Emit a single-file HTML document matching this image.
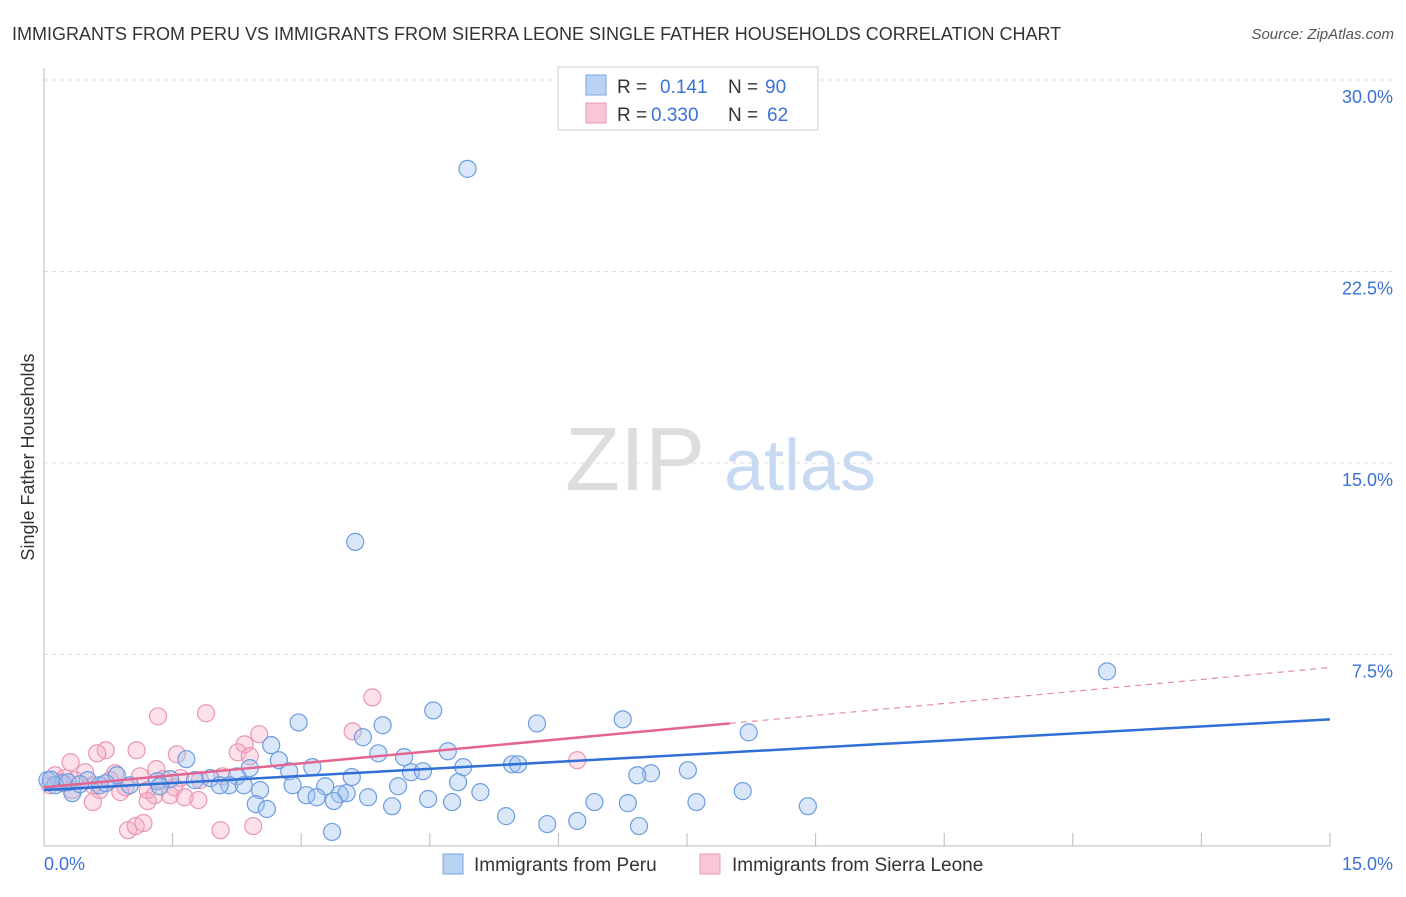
<!DOCTYPE html>
<html><head><meta charset="utf-8"><style>
body{margin:0;background:#fff;font-family:"Liberation Sans",sans-serif}
svg text{font-family:"Liberation Sans",sans-serif}
</style></head><body>
<svg id="chart" width="1406" height="892" xmlns="http://www.w3.org/2000/svg">
<text x="12" y="40" font-size="18" fill="#333">IMMIGRANTS FROM PERU VS IMMIGRANTS FROM SIERRA LEONE SINGLE FATHER HOUSEHOLDS CORRELATION CHART</text>
<text x="1394" y="39" font-size="15" fill="#555" text-anchor="end" font-style="italic">Source: ZipAtlas.com</text>
<text transform="translate(34,457) rotate(-90)" font-size="18" fill="#333" text-anchor="middle">Single Father Households</text>
<g>
<text x="635" y="490" font-size="90" fill="#ddd" text-anchor="middle" font-family="Liberation Serif">ZIP</text>
<text x="800" y="490" font-size="72" fill="#c8daf2" text-anchor="middle">atlas</text>
</g>
<g id="grid"></g>
<g id="axes"></g>
<g id="marks"></g>
<g>
<rect x="558" y="67" width="260" height="63" fill="#fff" stroke="#ccc"/>
<rect x="586" y="75" width="20" height="20" fill="#b9d1f3" stroke="#7aa6e6"/>
<rect x="586" y="103" width="20" height="20" fill="#f8c6d6" stroke="#ec9ab5"/>
<text x="617" y="93" font-size="19" fill="#333">R = </text><text x="660" y="93" font-size="19" fill="#3a72d8">0.141</text>
<text x="728" y="93" font-size="19" fill="#333">N = </text><text x="765" y="93" font-size="19" fill="#3a72d8">90</text>
<text x="617" y="121" font-size="19" fill="#333">R = </text><text x="651" y="121" font-size="19" fill="#3a72d8">0.330</text>
<text x="728" y="121" font-size="19" fill="#333">N = </text><text x="767" y="121" font-size="19" fill="#3a72d8">62</text>
</g>
<g>
<rect x="443" y="854" width="20" height="20" fill="#b9d1f3" stroke="#7aa6e6"/>
<text x="474" y="871" font-size="19" fill="#333">Immigrants from Peru</text>
<rect x="700" y="854" width="20" height="20" fill="#f8c6d6" stroke="#ec9ab5"/>
<text x="732" y="871" font-size="19" fill="#333">Immigrants from Sierra Leone</text>
</g>
</svg>
<script>
const yTicks=[7.5,15,22.5,30];
const yTickLabels=["7.5%","15.0%","22.5%","30.0%"];
const xTickLabels=["0.0%","15.0%"];
const peruX=[4.94,3.63,12.40,2.97,3.95,4.54,5.75,6.75,8.22,3.72,2.65,1.66,3.90,4.20,4.71,2.74,2.40,3.13,2.86,4.89,5.46,5.53,4.28,4.42,7.08,6.92,7.51,3.59,2.25,1.94,1.76,1.47,1.32,0.85,0.51,0.22,0.04,0.33,1.00,2.16,2.33,2.52,2.90,3.28,4.13,4.83,5.09,3.06,3.18,3.45,3.53,3.78,2.47,2.60,3.38,4.06,4.48,4.76,6.42,6.81,7.61,8.15,8.91,5.39,5.87,6.22,6.94,3.36,2.05,1.35,0.65,0.13,0.08,0.28,0.42,0.72];
const peruY=[26.52,11.91,6.84,4.84,4.73,5.31,4.80,4.96,4.45,4.26,3.95,3.40,3.63,3.48,3.71,3.36,3.05,3.09,2.93,3.09,3.20,3.20,2.89,2.93,2.85,2.77,2.97,2.70,2.73,2.66,2.58,2.62,2.54,2.77,2.58,2.46,2.58,2.07,2.38,2.38,2.38,2.19,2.38,2.34,2.34,2.50,2.11,1.99,1.91,2.03,2.07,1.91,1.64,1.45,1.76,1.56,1.84,1.72,1.72,1.68,1.72,2.15,1.56,1.17,0.86,0.98,0.78,0.55,2.38,2.34,2.38,2.38,2.60,2.50,2.42,2.46];
const sierraX=[3.83,1.33,1.89,3.60,2.51,2.34,1.08,0.72,0.62,1.55,2.26,2.40,0.31,1.31,6.22,0.13,0.48,0.83,1.12,1.39,1.59,1.82,2.08,0.19,0.36,0.57,0.95,1.52,1.21,0.33,0.65,0.89,1.29,1.47,1.64,1.80,0.57,1.21,0.98,1.07,1.16,2.06,2.44,0.07,0.24,0.77];
const sierraY=[5.82,5.08,5.20,4.49,4.38,3.98,3.75,3.75,3.63,3.59,3.67,3.52,3.28,3.01,3.36,2.77,2.89,2.85,2.73,2.62,2.66,2.58,2.73,2.50,2.58,2.38,2.30,2.30,2.19,2.19,2.19,2.11,1.99,1.99,1.91,1.80,1.72,1.76,0.62,0.78,0.90,0.62,0.78,2.38,2.66,2.58];
const peruTrend=[2.19,4.96];
const sierraTrend=[2.3,6.99];
const sierraSolidEnd=8.0;
const X0=44,X1=1330,Y0=846,PXY=(846-80)/30;
const sx=v=>X0+v*(X1-X0)/15, sy=v=>Y0-v*PXY;
const NS="http://www.w3.org/2000/svg";
function mk(t,a,p){const e=document.createElementNS(NS,t);for(const k in a)e.setAttribute(k,a[k]);p.appendChild(e);return e;}
const grid=document.getElementById('grid'),axes=document.getElementById('axes'),marks=document.getElementById('marks');
yTicks.forEach((v,i)=>{
 const l=mk('line',{x1:X0,x2:1393,y1:sy(v),y2:sy(v),stroke:'#ddd','stroke-dasharray':'4,4'},grid);
 
 
 const t=mk('text',{x:1393,y:sy(v)+23,'font-size':18,fill:'#3a72d8','text-anchor':'end'},axes);
 t.textContent=yTickLabels[i];
 
 
});
const al=mk('line',{x1:X0,x2:X0,y1:68,y2:Y0,stroke:'#bbb'},axes);


const bl=mk('line',{x1:X0,x2:X1,y1:Y0,y2:Y0,stroke:'#bbb'},axes);


for(let i=1;i<=10;i++){const tk=mk('line',{x1:sx(i*1.5),x2:sx(i*1.5),y1:833,y2:Y0,stroke:'#bbb'},axes);
 
 }
const xl0=mk('text',{x:44,y:870,'font-size':18,fill:'#3a72d8'},axes);xl0.textContent=xTickLabels[0];


const xl1=mk('text',{x:1393,y:870,'font-size':18,fill:'#3a72d8','text-anchor':'end'},axes);xl1.textContent=xTickLabels[1];


sierraX.forEach((v,i)=>{const c=mk('circle',{cx:sx(v),cy:sy(sierraY[i]),r:8.5,fill:'rgba(245,170,195,0.35)',stroke:'#e996b2','stroke-width':1.2},marks);
 
 });
peruX.forEach((v,i)=>{const c=mk('circle',{cx:sx(v),cy:sy(peruY[i]),r:8.5,fill:'rgba(160,195,240,0.4)',stroke:'#6d9de0','stroke-width':1.2},marks);
 
 });
const ln=(a,b,x)=>a+(b-a)*x/15;
const pt=mk('line',{x1:sx(0),y1:sy(peruTrend[0]),x2:sx(15),y2:sy(peruTrend[1]),stroke:'#2f6fd6','stroke-width':2.5},marks);


const st=mk('line',{x1:sx(0),y1:sy(sierraTrend[0]),x2:sx(sierraSolidEnd),y2:sy(ln(sierraTrend[0],sierraTrend[1],sierraSolidEnd)),stroke:'#e26592','stroke-width':2.5},marks);


const sd=mk('line',{x1:sx(sierraSolidEnd),y1:sy(ln(sierraTrend[0],sierraTrend[1],sierraSolidEnd)),x2:sx(15),y2:sy(sierraTrend[1]),stroke:'#e88aab','stroke-width':1.2,'stroke-dasharray':'6,5'},marks);


</script>
</body></html>
